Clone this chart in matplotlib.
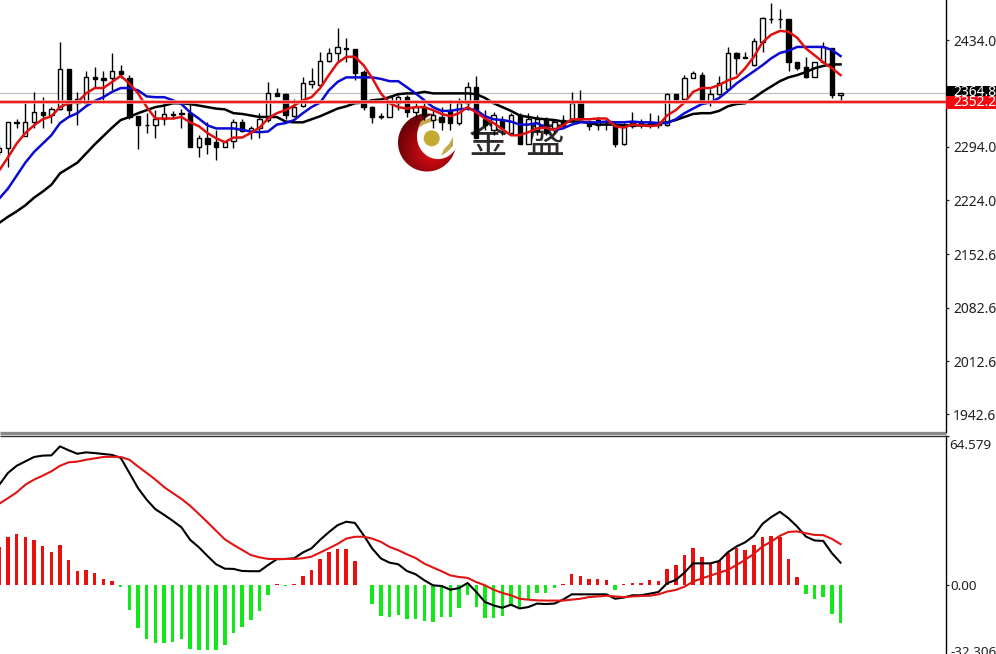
import numpy as np
import matplotlib
matplotlib.use("Agg")
import matplotlib.pyplot as plt
from matplotlib.patches import Circle, Polygon, Rectangle

plt.rcParams['font.family'] = ['Noto Sans', 'Noto Sans CJK SC', 'DejaVu Sans']

# candles, oldest first
opens = [2287, 2292, 2326, 2308, 2327, 2339, 2335, 2344, 2396, 2356,
         2352, 2385, 2384, 2384, 2393, 2384, 2334, 2323, 2322, 2330,
         2336, 2337, 2338, 2294, 2306, 2300, 2293, 2302, 2326, 2313,
         2318, 2329, 2364, 2363, 2334, 2347, 2376, 2375, 2406, 2417,
         2423, 2422, 2392, 2346, 2334, 2333, 2352, 2359, 2339, 2346,
         2329, 2333, 2342, 2325, 2351, 2373, 2331, 2316, 2329, 2312,
         2335, 2298, 2316, 2331, 2318, 2329, 2329, 2351, 2326, 2322,
         2326, 2322, 2298, 2326, 2326, 2326, 2325, 2322, 2363, 2356,
         2384, 2388, 2354, 2363, 2370, 2417, 2412, 2401, 2431, 2462,
         2462, 2462, 2405, 2398, 2385, 2405, 2423, 2362]
closes = [2292, 2326, 2325, 2327, 2339, 2335, 2344, 2396, 2342, 2351,
          2385, 2383, 2381, 2393, 2389, 2333, 2322, 2322, 2330, 2337,
          2337, 2338, 2294, 2306, 2298, 2293, 2300, 2326, 2314, 2319,
          2330, 2364, 2360, 2335, 2346, 2377, 2380, 2406, 2417, 2425,
          2422, 2391, 2346, 2333, 2333, 2359, 2359, 2339, 2346, 2335,
          2335, 2326, 2325, 2352, 2373, 2306, 2322, 2335, 2318, 2335,
          2298, 2331, 2331, 2312, 2326, 2321, 2352, 2331, 2321, 2329,
          2327, 2298, 2321, 2321, 2322, 2322, 2323, 2363, 2356, 2384,
          2391, 2354, 2363, 2377, 2417, 2410, 2411, 2433, 2463, 2461,
          2461, 2405, 2397, 2385, 2405, 2425, 2362, 2364]
highs = [2296, 2326, 2331, 2351, 2366, 2359, 2346, 2431, 2396, 2366,
         2393, 2398, 2393, 2417, 2401, 2388, 2334, 2338, 2342, 2351,
         2341, 2344, 2351, 2310, 2327, 2316, 2302, 2331, 2330, 2321,
         2338, 2379, 2371, 2364, 2356, 2385, 2397, 2418, 2423, 2450,
         2437, 2422, 2395, 2348, 2338, 2362, 2362, 2362, 2352, 2351,
         2342, 2346, 2355, 2358, 2379, 2387, 2342, 2339, 2334, 2338,
         2338, 2338, 2335, 2333, 2331, 2335, 2366, 2368, 2329, 2333,
         2329, 2326, 2326, 2339, 2331, 2338, 2335, 2364, 2363, 2388,
         2393, 2392, 2370, 2387, 2425, 2418, 2418, 2437, 2464, 2483,
         2475, 2462, 2405, 2412, 2405, 2431, 2423, 2364]
lows = [2283, 2267, 2319, 2308, 2319, 2319, 2325, 2342, 2333, 2323,
        2352, 2371, 2355, 2368, 2384, 2331, 2291, 2312, 2305, 2322,
        2330, 2319, 2293, 2280, 2285, 2276, 2293, 2292, 2313, 2304,
        2306, 2327, 2360, 2330, 2333, 2346, 2371, 2373, 2405, 2405,
        2405, 2381, 2342, 2325, 2330, 2333, 2342, 2333, 2333, 2329,
        2319, 2316, 2316, 2322, 2342, 2306, 2316, 2309, 2310, 2312,
        2297, 2297, 2310, 2309, 2312, 2318, 2329, 2330, 2316, 2316,
        2316, 2293, 2296, 2319, 2319, 2318, 2319, 2321, 2351, 2355,
        2384, 2352, 2348, 2362, 2368, 2389, 2411, 2400, 2418, 2456,
        2450, 2393, 2395, 2384, 2385, 2404, 2358, 2354]

# moving averages
ma_red = [2263, 2280, 2298, 2312, 2322, 2330, 2334, 2346, 2351, 2352,
          2364, 2371, 2371, 2379, 2387, 2377, 2364, 2346, 2331, 2331,
          2331, 2333, 2326, 2321, 2312, 2305, 2300, 2306, 2306, 2312,
          2319, 2331, 2338, 2342, 2348, 2355, 2359, 2371, 2388, 2404,
          2412, 2412, 2401, 2384, 2364, 2351, 2346, 2344, 2346, 2346,
          2342, 2337, 2334, 2338, 2346, 2339, 2331, 2325, 2317, 2309,
          2309, 2313, 2318, 2319, 2316, 2322, 2330, 2330, 2330, 2331,
          2331, 2321, 2319, 2323, 2322, 2321, 2322, 2335, 2342, 2352,
          2366, 2371, 2371, 2375, 2381, 2385, 2397, 2412, 2431, 2441,
          2446, 2445, 2437, 2423, 2414, 2405, 2397, 2388]
ma_blue = [2226, 2239, 2256, 2273, 2287, 2298, 2309, 2325, 2333, 2338,
           2347, 2354, 2359, 2366, 2371, 2371, 2368, 2360, 2359, 2359,
           2355, 2350, 2339, 2331, 2322, 2318, 2318, 2318, 2316, 2314,
           2313, 2314, 2323, 2325, 2329, 2338, 2346, 2352, 2368, 2379,
           2385, 2385, 2385, 2385, 2383, 2380, 2380, 2372, 2364, 2355,
           2346, 2341, 2341, 2343, 2344, 2342, 2334, 2330, 2329, 2327,
           2323, 2323, 2325, 2319, 2316, 2318, 2323, 2326, 2326, 2326,
           2327, 2326, 2326, 2327, 2326, 2326, 2325, 2325, 2330, 2338,
           2344, 2350, 2352, 2358, 2367, 2377, 2385, 2393, 2401, 2410,
           2417, 2420, 2425, 2425, 2425, 2425, 2421, 2413]
ma_black = [2194, 2202, 2209, 2217, 2227, 2235, 2244, 2259, 2266, 2273,
            2285, 2297, 2308, 2319, 2329, 2333, 2338, 2342, 2346, 2348,
            2351, 2351, 2350, 2348, 2346, 2344, 2343, 2338, 2337, 2335,
            2333, 2333, 2333, 2327, 2326, 2326, 2330, 2334, 2339, 2344,
            2347, 2351, 2352, 2355, 2356, 2359, 2363, 2364, 2364, 2366,
            2364, 2364, 2364, 2364, 2364, 2363, 2358, 2351, 2346, 2341,
            2335, 2333, 2331, 2330, 2329, 2327, 2327, 2327, 2325, 2323,
            2323, 2323, 2322, 2322, 2322, 2322, 2325, 2326, 2329, 2333,
            2337, 2338, 2338, 2341, 2347, 2350, 2351, 2358, 2366, 2373,
            2380, 2385, 2388, 2392, 2397, 2400, 2402, 2402]

# macd panel
hist = [16.5, 20.7, 22.0, 20.7, 19.7, 17.0, 14.2, 17.5, 10.8, 6.2,
        6.6, 5.2, 2.7, 1.9, -0.6, -10.7, -18.4, -23.4, -25.1, -25.1,
        -24.4, -23.4, -27.6, -28.0, -28.0, -28.0, -25.9, -20.5, -18.2, -15.0,
        -11.1, -4.2, 0.4, -0.5, 0.4, 4.2, 6.6, 11.3, 14.2, 15.9,
        15.9, 10.5, 0.3, -7.9, -13.3, -13.7, -12.7, -14.5, -14.6, -15.6,
        -15.9, -13.7, -13.7, -9.8, -4.3, -9.4, -14.2, -14.2, -13.1, -8.7,
        -9.7, -5.8, -3.3, -3.3, -1.2, 0.4, 5.1, 4.0, 2.6, 2.6,
        2.2, -1.9, 0.4, 1.0, 1.0, 2.2, 2.0, 6.9, 8.8, 13.1,
        16.0, 12.1, 9.8, 10.7, 13.9, 16.0, 15.3, 17.5, 20.7, 21.5,
        21.1, 11.3, 3.8, -3.6, -5.9, -4.9, -12.6, -16.2]
macd = [43.5, 48.6, 51.7, 53.6, 55.5, 56.1, 56.2, 60.1, 58.4, 56.9,
        57.5, 57.2, 56.8, 56.4, 55.1, 48.6, 42.0, 37.0, 32.9, 30.5,
        27.9, 25.1, 19.7, 16.5, 12.7, 9.1, 7.2, 7.1, 6.2, 6.1,
        6.1, 8.8, 11.3, 11.4, 11.7, 14.2, 16.0, 19.7, 23.0, 26.0,
        27.5, 27.0, 21.7, 15.9, 11.6, 9.8, 9.1, 6.2, 4.8, 2.2,
        0.0, -0.3, -1.9, -1.2, 1.0, -2.9, -7.2, -8.7, -9.7, -8.4,
        -10.0, -9.4, -7.9, -8.1, -7.9, -6.2, -3.9, -3.9, -3.9, -3.9,
        -3.9, -5.8, -5.3, -4.3, -4.3, -3.6, -2.9, 0.9, 2.3, 5.5,
        9.5, 9.5, 9.5, 10.5, 14.3, 16.8, 18.6, 21.4, 26.6, 29.5,
        31.8, 29.0, 25.4, 21.1, 19.4, 19.2, 13.9, 9.8]
signal = [35.3, 37.7, 40.2, 43.5, 45.7, 47.4, 49.3, 51.7, 53.2, 53.5,
          54.3, 54.9, 55.5, 55.6, 55.5, 54.3, 51.4, 48.6, 45.7, 42.5,
          39.9, 37.4, 34.4, 30.9, 27.3, 23.6, 19.9, 17.5, 15.3, 13.1,
          12.1, 11.4, 11.4, 11.4, 11.4, 11.7, 12.4, 14.2, 16.0, 17.9,
          20.2, 21.0, 21.0, 20.2, 18.8, 16.6, 15.2, 13.4, 11.8, 9.4,
          7.7, 6.1, 4.3, 3.6, 3.2, 1.4, 0.0, -1.9, -3.3, -4.3,
          -5.8, -6.2, -6.5, -6.6, -6.6, -6.6, -6.2, -5.8, -5.1, -4.8,
          -4.5, -4.8, -5.1, -4.8, -4.6, -4.5, -3.9, -2.7, -2.0, -0.6,
          1.6, 3.0, 4.2, 5.5, 6.6, 8.8, 11.0, 13.6, 16.8, 18.9,
          21.4, 23.1, 23.3, 22.5, 21.8, 21.7, 20.1, 17.8]

price_ticks = [2434.0, 2294.0, 2224.0, 2152.6, 2082.6, 2012.6, 1942.6]
bid = 2364.8
alert = 2352.2

W, H = 996, 654
fig = plt.figure(figsize=(W / 100, H / 100), dpi=100, facecolor="white")

# logo and divider sit under the chart, in picture pixels
over = fig.add_axes([0, 0, 1, 1], zorder=0)
over.axis("off")
over.plot([0, 946], [433, 433], color="#8a8a8a", lw=2.4, solid_capstyle="butt")
over.plot([0, 946], [435.5, 435.5], color="#333333", lw=1.0, solid_capstyle="butt")

yy, xx = np.mgrid[112:173, 396:457]
dist = np.hypot(xx - 426.5, yy - 142)
hole = np.hypot((xx - 437.5) / 20.5, (yy - 136) / 22)
shade = np.clip(np.hypot(xx - 432, yy - 150) / 36, 0, 1)
rgba = np.zeros(xx.shape + (4,))
rgba[..., 0] = 0.92 - 0.5 * shade
rgba[..., 1] = 0.05 - 0.04 * shade
rgba[..., 2] = 0.08 - 0.05 * shade
rgba[..., 3] = np.clip(29.5 - dist, 0, 1) * np.clip((hole - 1) * 20, 0, 1)
over.imshow(rgba, extent=(396, 457, 173, 112), aspect="auto", interpolation="bilinear", zorder=3)
over.set_xlim(0, W)
over.set_ylim(H, 0)
over.add_patch(Circle((431.7, 138.3), 8, facecolor="#c4aa30", edgecolor="none", zorder=4))
over.add_patch(Polygon([(418, 128), (421, 121), (430, 118), (443, 120), (434, 121), (425, 124)],
                       facecolor="#c2aa48", edgecolor="none", zorder=4))
over.add_patch(Polygon([(453, 137), (453, 146), (447, 152), (441, 156), (444, 149), (449, 144)],
                       facecolor="#c2aa48", edgecolor="none", zorder=4))
over.text(488.5, 143, "金", fontsize=28, color="#2e2a2a", ha="center", va="center", zorder=4)
over.text(544.5, 143, "盛", fontsize=28, color="#2e2a2a", ha="center", va="center", zorder=4)

ax = fig.add_axes([0, 1 - 432 / H, 945.5 / W, 432 / H], zorder=1)
ax2 = fig.add_axes([0, 0, 945.5 / W, (H - 436) / H], zorder=1)
ax.patch.set_visible(False)
ax2.patch.set_visible(False)

x = np.arange(len(closes))
opens, closes, highs, lows = map(np.array, (opens, closes, highs, lows))
hist = np.array(hist)

# candles
up = closes >= opens
ax.vlines(x, lows, highs, color="black", lw=1.0, zorder=2)
ax.bar(x[up], closes[up] - opens[up], bottom=opens[up], width=0.5,
       facecolor="white", edgecolor="black", lw=1.0, zorder=3)
ax.bar(x[~up], opens[~up] - closes[~up], bottom=closes[~up], width=0.5,
       facecolor="black", edgecolor="black", lw=1.0, zorder=3)

ax.axhline(bid, color="#bdbdbd", lw=0.8, zorder=1)
ax.plot(x, ma_black, color="black", lw=1.8, zorder=4)
ax.plot(x, ma_blue, color="#0a0ad2", lw=1.8, zorder=5)
ax.plot(x, ma_red, color="#e01010", lw=1.8, zorder=6)
ax.axhline(alert, color="#f0a0a0", lw=2.6, zorder=6)
ax.axhline(alert, color="#ee1111", lw=1.3, zorder=7)

ax.set_xlim(0.08, 109.1)
ax.set_ylim(1919.4, 2486.6)
ax.set_xticks([])
ax.yaxis.tick_right()
ax.set_yticks(price_ticks)
ax.set_yticklabels(["%.1f" % p for p in price_ticks])
ax.tick_params(axis="y", length=2, width=0.9, pad=3.5, labelsize=10, colors="#222222")

# price badges on the scale, the red one covers the lower part of the black one
trans = ax.get_yaxis_transform()
ax.add_patch(Rectangle((1.001, bid - 9), 0.06, 18, transform=trans, facecolor="black",
                       edgecolor="none", clip_on=False, zorder=8))
ax.text(1.008, bid, "%.1f" % bid, transform=trans, color="white", fontsize=10, va="center",
        clip_on=False, zorder=9)
ax.add_patch(Rectangle((1.001, alert - 9), 0.06, 18, transform=trans, facecolor="#f5080f",
                       edgecolor="none", clip_on=False, zorder=10))
ax.text(1.008, alert, "%.1f" % alert, transform=trans, color="white", fontsize=10, va="center",
        clip_on=False, zorder=11)

# macd
pos = hist >= 0
ax2.bar(x[pos], hist[pos], width=0.4, color="#e80f0f", zorder=2)
ax2.bar(x[~pos], hist[~pos], width=0.4, color="#10e81a", zorder=2)
ax2.plot(x, macd, color="black", lw=1.5, zorder=3)
ax2.plot(x, signal, color="#e01414", lw=1.5, zorder=4)
ax2.set_xlim(0.08, 109.1)
ax2.set_ylim(-29.7, 64.579)
ax2.set_xticks([])
ax2.yaxis.tick_right()
ax2.set_yticks([64.579, 0.0])
ax2.set_yticklabels(["", "0.00"])
ax2.tick_params(axis="y", length=2, width=0.9, pad=1.5, labelsize=9.7, colors="#222222")
ax2.annotate("64.579", (1, 64.579), xycoords=ax2.get_yaxis_transform(), xytext=(3, -6.5),
             textcoords="offset points", fontsize=9.7, color="#222222", va="center",
             annotation_clip=False)
ax2.text(1.005, 0.009, "-32.306", transform=ax2.transAxes, fontsize=9.7, color="#222222",
         va="center", clip_on=False)

for a in (ax, ax2):
    a.spines["left"].set_visible(False)
    a.spines["right"].set_linewidth(1.0)
    a.spines["top"].set_visible(False)
    a.spines["bottom"].set_visible(False)

fig.savefig("out.png", dpi=100)
